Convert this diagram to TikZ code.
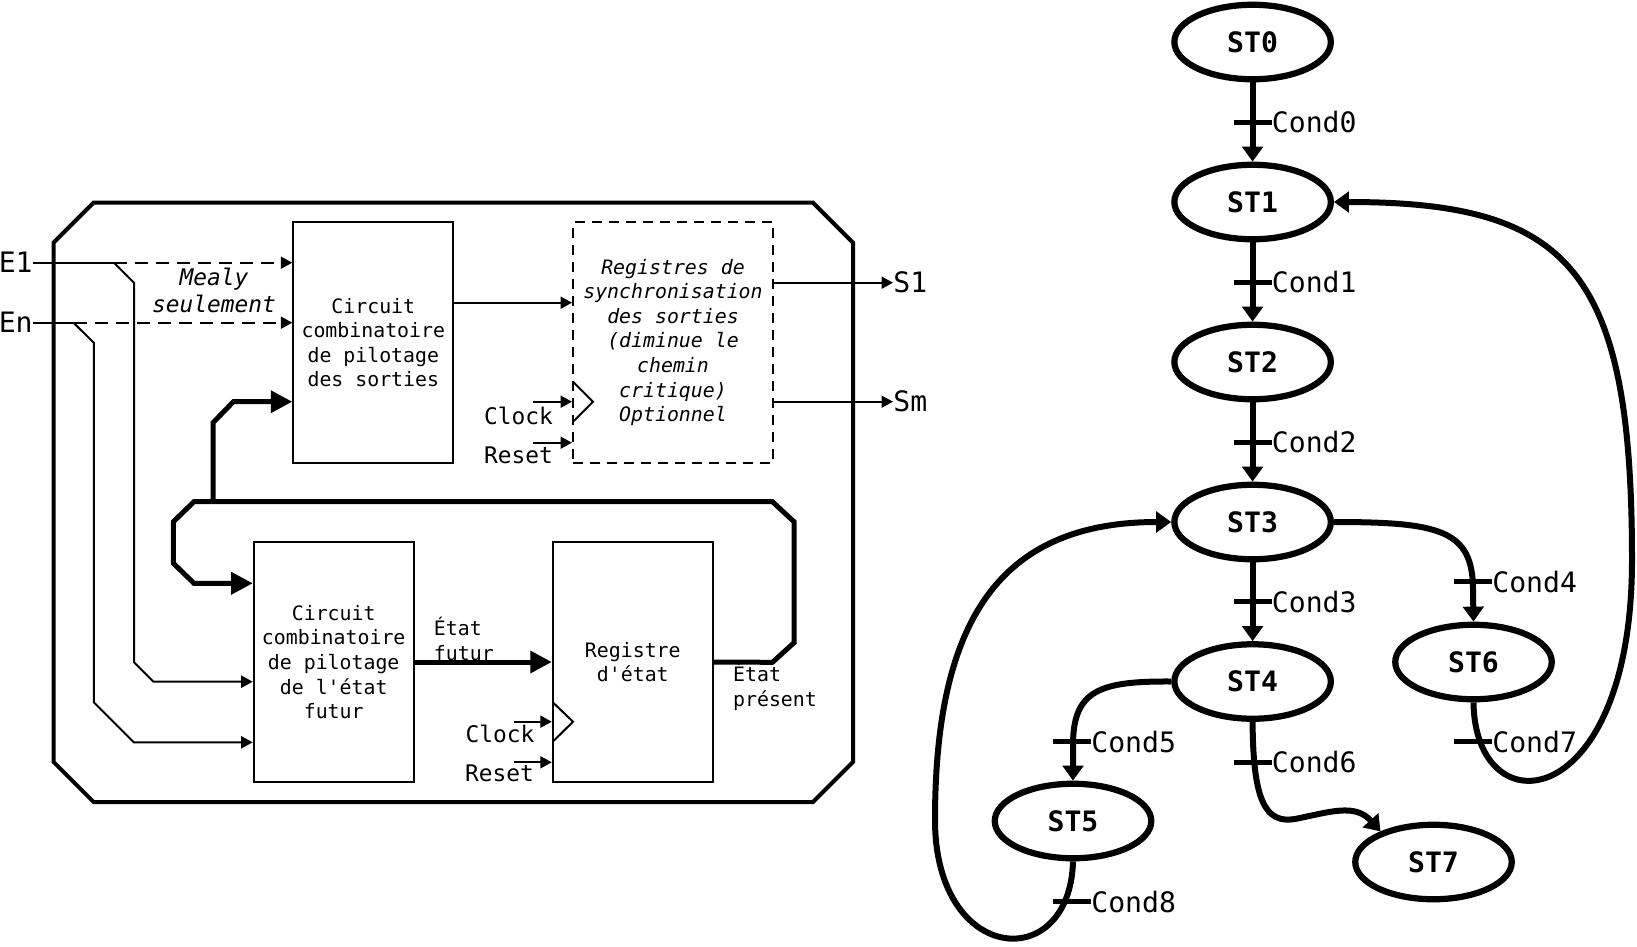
\documentclass[tikz,border=0pt]{standalone}
\usepackage{fontspec}
\setmainfont{DejaVu Sans Mono}[Ligatures=TeXOff]
\usetikzlibrary{arrows.meta,shapes.geometric}

\begin{document}
\begin{tikzpicture}[x=0.2mm, y=-0.2mm,
    etat/.style={ellipse, draw=black, line width=1.25mm, minimum width=31.3mm, minimum height=14.9mm, inner sep=0pt, font=\fontsize{16}{19}\selectfont\bfseries},
    bloc/.style={rectangle, draw=black, line width=0.4mm, minimum width=32mm, minimum height=48.1mm, inner sep=0pt, align=center, font=\fontsize{11.3}{14}\selectfont},
    cond/.style={anchor=west, inner sep=0pt, font=\fontsize{16}{19}\selectfont},
    grand/.style={inner sep=0pt, font=\fontsize{16}{19}\selectfont},
    petit/.style={inner sep=0pt, font=\fontsize{13}{15.4}\selectfont},
    note/.style={anchor=west, align=left, inner sep=0pt, font=\fontsize{11.3}{14}\selectfont},
    trans/.style={line width=1.2mm, -{Triangle[length=3mm, width=4.1mm]}},
    fil/.style={line width=0.4mm},
    fleche/.style={line width=0.4mm, -{Triangle[length=2.3mm, width=2.4mm]}},
    tirets/.style={dash pattern=on 2.6mm off 1.6mm},
    bus/.style={line width=1mm, -{Triangle[length=4.3mm, width=4.3mm]}}]

  \useasboundingbox (0,0) rectangle (1637,946);

  % machine a etats (schema bloc)
  \draw[line width=0.8mm] (53.6,242.7) -- (93.6,202.7) -- (813,202.7) -- (853,242.7)
    -- (853,762) -- (813,802) -- (93.6,802) -- (53.6,762) -- cycle;

  \node[bloc](CS) at (373.3,342.5){Circuit\\combinatoire\\de pilotage\\des sorties};
  \node[bloc, dash pattern=on 2mm off 1.4mm, minimum width=40mm, font=\fontsize{11.3}{14}\selectfont\itshape](RS) at (673.0,342.5){Registres de\\synchronisation\\des sorties\\(diminue le\\chemin\\critique)\\Optionnel};
  \node[bloc](CE) at (333.7,662.0){Circuit\\combinatoire\\de pilotage\\de l'état\\futur};
  \node[bloc](RE) at (632.8,662.0){Registre\\d'état};

  \node[grand, anchor=east](E1) at (33.0,262.7){E1};
  \node[grand, anchor=east](En) at (33.0,322.7){En};
  \node[grand, anchor=west](S1) at (893.0,282.7){S1};
  \node[grand, anchor=west](Sm) at (893.0,401.7){Sm};
  \node[petit, align=center, font=\fontsize{13}{15.4}\selectfont\itshape](M) at (214.0,290.0){Mealy\\seulement};
  \node[petit](ck1) at (518.5,416.0){Clock};
  \node[petit](rs1) at (518.5,455.3){Reset};
  \node[petit](ck2) at (500.0,734.0){Clock};
  \node[petit](rs2) at (499.6,773.7){Reset};
  \node[note](EF) at (433.6,639.0){État\\futur};
  \node[note](EP) at (732.8,686.7){État\\présent};

  \coordinate (b1) at (114.0,262.7);
  \coordinate (b2) at (73.5,322.7);
  \coordinate (h1) at (533.3,401.7);
  \coordinate (r1) at (533.3,442.7);
  \coordinate (h2) at (513.8,721.7);
  \coordinate (r2) at (513.8,762.3);

  \draw[fil] (E1.east) -- (b1);
  \draw[fil] (En.east) -- (b2);
  \draw[fleche, tirets] (b1) -- (b1 -| CS.west);
  \draw[fleche, tirets] (b2) -- (b2 -| CS.west);
  \draw[fleche] (b1) -- (134,282.7) -- (134,662.3) -- (153.4,681.7) -- (CE.west |- 0,681.7);
  \draw[fleche] (b2) -- (93.8,342.7) -- (93.8,702.3) -- (133.9,742.3) -- (CE.west |- 0,742.3);
  \draw[fleche] (CS.east |- 0,302.7) -- (RS.west |- 0,302.7);
  \draw[fleche] (RS.east |- S1) -- (S1.west);
  \draw[fleche] (RS.east |- Sm) -- (Sm.west);

  \draw[fleche] (h1) -- (h1 -| RS.west);
  \draw[fleche] (r1) -- (r1 -| RS.west);
  \draw[fil] (573,381.7) -- (593,401.7) -- (573,421.7);
  \draw[fleche] (h2) -- (h2 -| RE.west);
  \draw[fleche] (r2) -- (r2 -| RE.west);
  \draw[fil] (552.8,702.3) -- (573,721.7) -- (552.8,741.7);

  \draw[bus] (CE) -- (RE);
  \draw[bus] (RE.east) -- (772.4,662.3) -- (794,642.7) -- (794,521.7) -- (772.4,501.7)
    -- (194,501.7) -- (173.4,521.7) -- (173.4,563.3) -- (194,583.3) -- (CE.west |- 0,583.3);
  \draw[bus] (213,501.7) -- (213,422.7) -- (233.4,401.7) -- (CS.west |- 0,401.7);

  % graphe des etats
  \node[etat](ST0) at (1252.6, 42.0){ST0};
  \node[etat](ST1) at (1252.6,202.0){ST1};
  \node[etat](ST2) at (1252.6,362.0){ST2};
  \node[etat](ST3) at (1252.6,522.0){ST3};
  \node[etat](ST4) at (1252.6,681.5){ST4};
  \node[etat](ST5) at (1073.0,821.0){ST5};
  \node[etat](ST6) at (1473.5,662.0){ST6};
  \node[etat](ST7) at (1433.5,862.0){ST7};

  \draw[trans] (ST0) -- (ST1);
  \draw[trans] (ST1) -- (ST2);
  \draw[trans] (ST2) -- (ST3);
  \draw[trans] (ST3) -- (ST4);
  \draw[trans] (ST3.east) .. controls (1440,522) and (1473,530) .. (1473,590) -- (ST6.north);
  \draw[trans] (ST4.west) .. controls (1100,681) and (1073,690) .. (1073,745) -- (ST5.north);
  \draw[trans] (ST4.south) .. controls (1253,800) and (1265,824) .. (1295,819)
    .. controls (1330,812) and (1355,803) .. (ST7.150);
  \draw[trans] (ST6.south) .. controls (1475,830) and (1632,815) .. (1632,560)
    .. controls (1632,270) and (1570,202) .. (ST1.east);
  \draw[trans] (ST5.south) .. controls (1070,975) and (935,965) .. (935,820)
    .. controls (935,620) and (1000,522) .. (ST3.west);

  \node[cond](C0) at (1271.6,122.5){Cond0};
  \node[cond](C1) at (1271.6,282.0){Cond1};
  \node[cond](C2) at (1271.6,442.0){Cond2};
  \node[cond](C3) at (1271.6,601.7){Cond3};
  \node[cond](C4) at (1492.0,581.8){Cond4};
  \node[cond](C5) at (1091.0,741.7){Cond5};
  \node[cond](C6) at (1271.6,762.0){Cond6};
  \node[cond](C7) at (1492.0,741.7){Cond7};
  \node[cond](C8) at (1091.0,901.7){Cond8};

  \draw[line width=1mm] (C0.west) -- ++(-38,0);
  \draw[line width=1mm] (C1.west) -- ++(-38,0);
  \draw[line width=1mm] (C2.west) -- ++(-38,0);
  \draw[line width=1mm] (C3.west) -- ++(-38,0);
  \draw[line width=1mm] (C4.west) -- ++(-38,0);
  \draw[line width=1mm] (C5.west) -- ++(-38,0);
  \draw[line width=1mm] (C6.west) -- ++(-38,0);
  \draw[line width=1mm] (C7.west) -- ++(-38,0);
  \draw[line width=1mm] (C8.west) -- ++(-38,0);
\end{tikzpicture}
\end{document}
